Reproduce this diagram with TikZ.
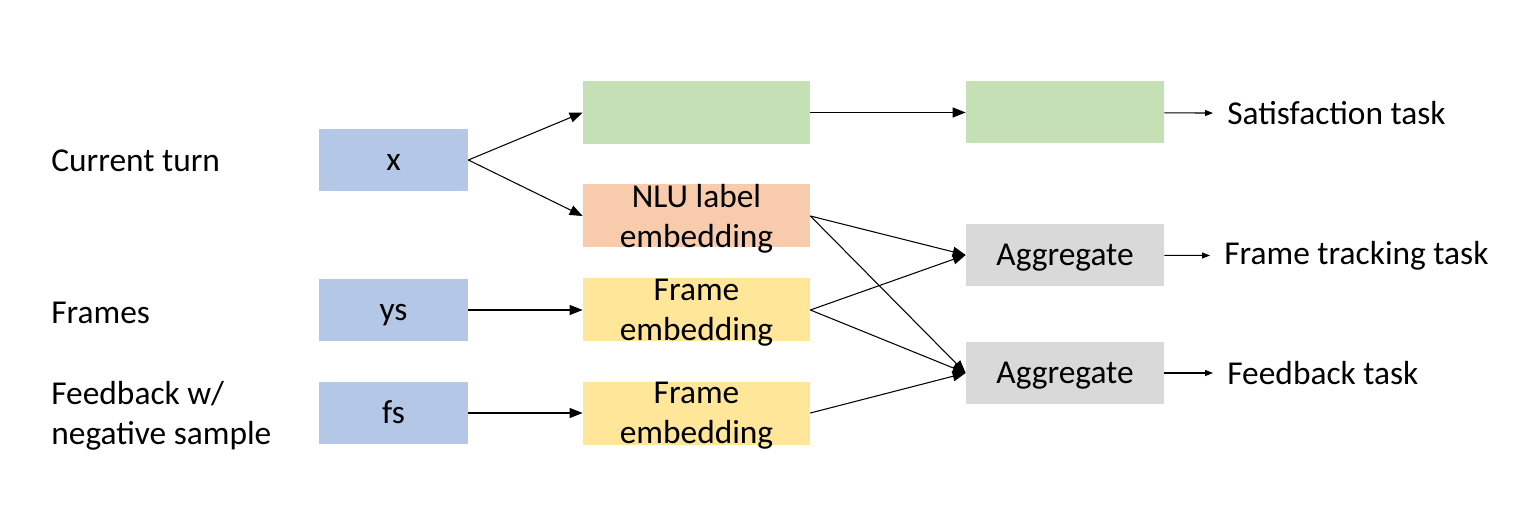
\documentclass[tikz,border=0pt]{standalone}
\usepackage{fontspec}
\setmainfont{Carlito}
\usepackage{xcolor}
\usetikzlibrary{arrows.meta,positioning}
\definecolor{inblue}{HTML}{B4C7E7}
\definecolor{satgreen}{HTML}{C5E0B4}
\definecolor{nlupeach}{HTML}{F8CBAD}
\definecolor{frameyellow}{HTML}{FFE699}
\definecolor{agggray}{HTML}{D9D9D9}

\begin{document}
\begin{tikzpicture}[
  font=\fontsize{19}{23}\selectfont,
  inbox/.style={fill=inblue,minimum width=2.98cm,minimum height=1.24cm,text height=15pt,text depth=3.2pt},
  midbox/.style={minimum width=4.54cm,minimum height=1.26cm,inner sep=0pt},
  boxtext/.style={align=center,yshift=-0.05cm},
  outbox/.style={minimum width=3.96cm,minimum height=1.24cm,text height=15pt,text depth=3.2pt},
  rowlabel/.style={anchor=west,inner sep=0pt,align=left},
  tasklabel/.style={anchor=west,inner ysep=0pt,inner xsep=0.28cm},
  arrow/.style={-{Triangle[length=2.6mm,width=2mm]},line width=0.6pt},
  smallarrow/.style={-{Triangle[length=1.6mm,width=1.2mm]},line width=0.6pt}
]
\useasboundingbox (0,0) rectangle (30.58,10.42);
% inputs
\node[rowlabel] (turnlbl) at (1.02,7.20) {Current turn};
\node[rowlabel] (framelbl) at (1.02,4.16) {Frames};
\node[rowlabel] (fblbl) at (1.02,2.10) {Feedback w/\\negative sample};
\node[inbox] (x) at (7.87,7.22) {x};
\node[inbox] (ys) at (7.87,4.22) {ys};
\node[inbox] (fs) at (7.87,2.16) {fs};
% encoders
\node[midbox,fill=satgreen] (sat1) at (13.93,8.17) {};
\node[midbox,fill=nlupeach,label={[boxtext]center:{NLU label\\embedding}}] (nlu) at (13.93,6.10) {};
\node[midbox,fill=frameyellow,label={[boxtext]center:{Frame\\embedding}}] (fe1) at (13.93,4.22) {};
\node[midbox,fill=frameyellow,label={[boxtext]center:{Frame\\embedding}}] (fe2) at (13.93,2.16) {};
% heads
\node[outbox,fill=satgreen] (sat2) at (21.30,8.17) {};
\node[outbox,fill=agggray] (agg1) at (21.30,5.32) {Aggregate};
\node[outbox,fill=agggray] (agg2) at (21.30,2.96) {Aggregate};
\node[tasklabel] (sattask) at (24.26,8.15) {Satisfaction task};
\node[tasklabel] (frametask) at (24.20,5.30) {Frame tracking task};
\node[tasklabel] (fbtask) at (24.26,2.96) {Feedback task};
% connectors
\draw[arrow] (x.east) -- (sat1.west);
\draw[arrow] (x.east) -- (nlu.west);
\draw[arrow] (ys) -- (fe1);
\draw[arrow] (fs) -- (fe2);
\draw[arrow] (sat1) -- (sat2);
\draw[arrow] (nlu.east) -- (agg1.west);
\draw[arrow] (nlu.east) -- (agg2.west);
\draw[arrow] (fe1.east) -- (agg1.west);
\draw[arrow] (fe1.east) -- (agg2.west);
\draw[arrow] (fe2.east) -- (agg2.west);
\draw[smallarrow] (sat2) -- (sattask);
\draw[smallarrow] (agg1) -- (frametask);
\draw[smallarrow] (agg2) -- (fbtask);
\end{tikzpicture}
\end{document}
